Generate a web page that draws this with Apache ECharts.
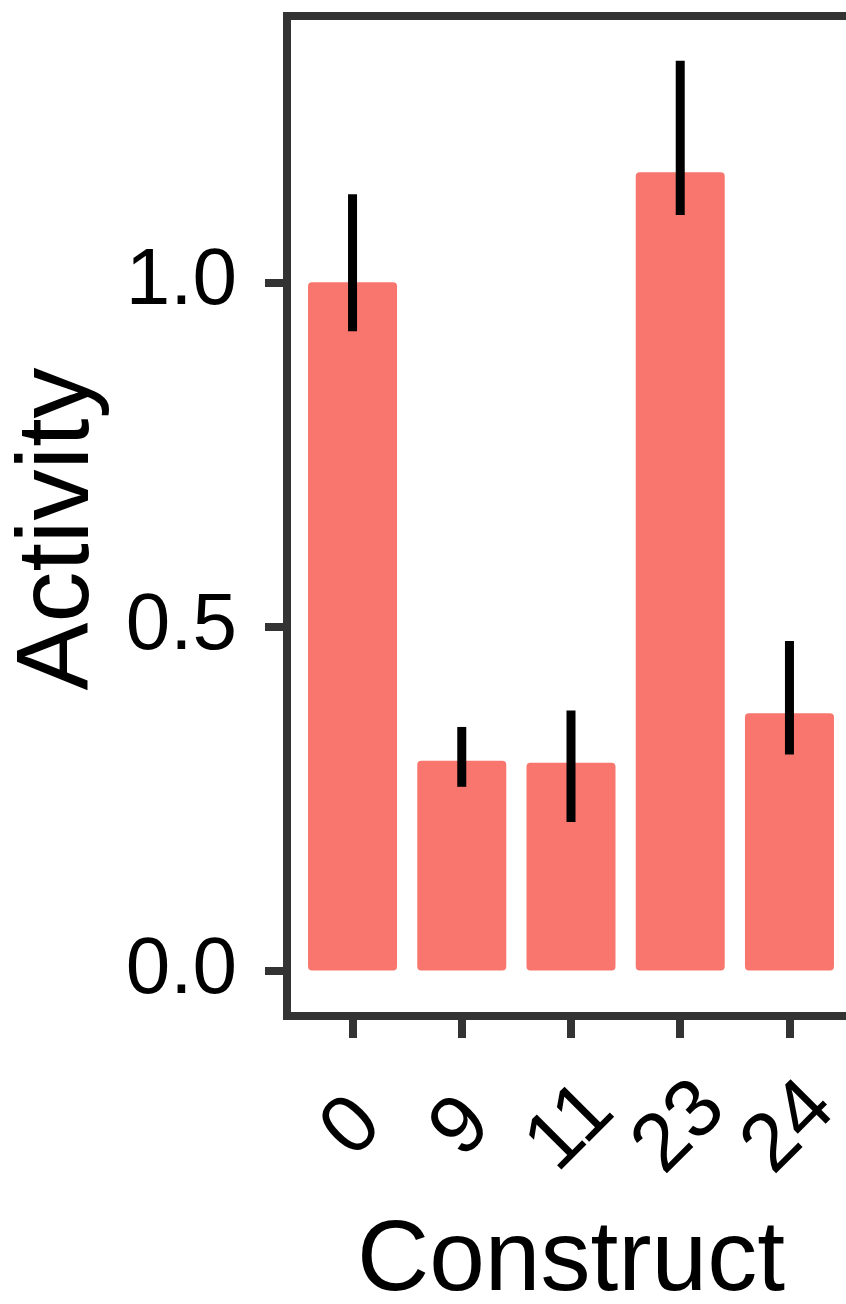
<!DOCTYPE html>
<html>
<head>
<meta charset="utf-8">
<script src="https://cdn.jsdelivr.net/npm/echarts@6/dist/echarts.min.js"></script>
<style>html,body{margin:0;padding:0;background:#fff;}#c{width:846px;height:1304px;}</style>
</head>
<body>
<div id="c"></div>
<script>
const categories = ['0', '9', '11', '23', '24'];
const activity = [1.0, 0.305, 0.302, 1.160, 0.374];
const errLow = [0.929, 0.267, 0.216, 1.098, 0.314];
const errHigh = [1.128, 0.354, 0.378, 1.322, 0.479];
const yTicks = [0, 0.5, 1.0];

const FONT = '"Liberation Sans", Arial, Helvetica, sans-serif';
const chart = echarts.init(document.getElementById('c'), null, {renderer: 'canvas'});
const idx = categories.map((c, i) => i);
const X_MIN = -0.6, X_MAX = categories.length - 1 + 0.6;
// an empty trailing label at the axis end keeps ECharts' max-label overlap check from hiding a real label
const labelValues = idx.concat([X_MAX]);

chart.setOption({
  animation: false,
  backgroundColor: '#ffffff',
  grid: {
    left: 287, top: 16, right: -9, bottom: 288,
    show: true, borderColor: '#333333', borderWidth: 8,
    outerBoundsMode: 'none'
  },
  xAxis: {
    type: 'value', min: X_MIN, max: X_MAX,
    axisLine: {show: false, onZero: false},
    splitLine: {show: false},
    axisTick: {show: true, inside: false, customValues: idx, length: 22, lineStyle: {color: '#333333', width: 8}},
    axisLabel: {
      customValues: labelValues, rotate: 45, margin: 112,
      align: 'center', verticalAlign: 'middle',
      hideOverlap: false,
      formatter: v => (Number.isInteger(v) ? categories[v] : ''),
      fontFamily: FONT, fontSize: 82, color: '#000000'
    },
    name: 'Construct', nameLocation: 'middle', nameGap: 196,
    nameTextStyle: {fontFamily: FONT, fontSize: 100, color: '#000000'}
  },
  yAxis: {
    type: 'value', min: -0.066, max: 1.387,
    axisLine: {show: false, onZero: false},
    splitLine: {show: false},
    axisTick: {show: true, inside: false, customValues: yTicks, length: 22, lineStyle: {color: '#333333', width: 8}},
    axisLabel: {
      customValues: yTicks, margin: 50,
      hideOverlap: false, showMinLabel: true, showMaxLabel: true,
      formatter: v => v.toFixed(1),
      fontFamily: FONT, fontSize: 80, color: '#000000'
    },
    name: 'Activity', nameLocation: 'middle', nameGap: 176,
    nameTextStyle: {fontFamily: FONT, fontSize: 102, color: '#000000', padding: [0, 26, 0, 0]}
  },
  series: [
    {
      type: 'bar',
      data: idx.map(i => [i, activity[i]]),
      barWidth: 89,
      itemStyle: {color: '#F8766D', borderRadius: 4}
    },
    {
      type: 'custom',
      data: idx.map(i => [i, errLow[i], errHigh[i]]),
      z: 5,
      renderItem: function (params, api) {
        const lo = api.coord([api.value(0), api.value(1)]);
        const hi = api.coord([api.value(0), api.value(2)]);
        return {
          type: 'line',
          shape: {x1: lo[0], y1: lo[1], x2: hi[0], y2: hi[1]},
          style: {stroke: '#000000', lineWidth: 9, lineCap: 'butt'}
        };
      }
    }
  ]
});
</script>
</body>
</html>
